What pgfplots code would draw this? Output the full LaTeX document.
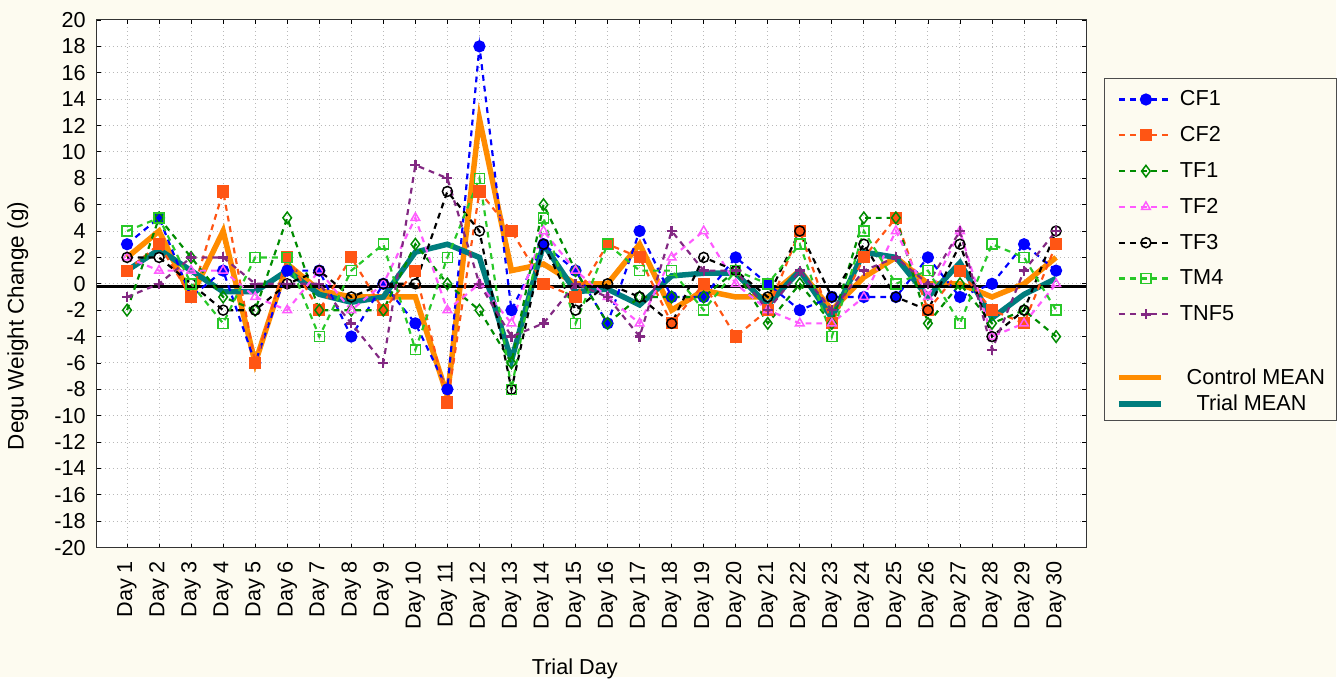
\documentclass[border=0pt]{standalone}
\usepackage{pgfplots}
\pgfplotsset{compat=1.18}
\usepackage{pgfplotstable}
\usepackage{fontspec}
\setmainfont{Liberation Sans}
\definecolor{bgc}{RGB}{253,251,240}
\definecolor{cfone}{RGB}{0,0,255}
\definecolor{cftwo}{RGB}{255,85,20}
\definecolor{tfone}{RGB}{0,140,0}
\definecolor{tftwo}{RGB}{255,90,255}
\definecolor{tmfour}{RGB}{40,200,40}
\definecolor{tnf}{RGB}{130,40,130}
\definecolor{ctrl}{RGB}{255,140,0}
\definecolor{trial}{RGB}{0,125,125}
\newcommand\lf{\fontsize{13}{15}\selectfont}
\pgfplotsset{
  indiv/.style={line width=1.3pt, dash pattern=on 3.5pt off 3pt, mark size=3pt},
  meanleg/.style={legend image code/.code={\path (0pt,-6.3pt) (0pt,6.3pt); \draw[##1] (0pt,0pt) -- (25pt,0pt);}},
  gapleg/.style={legend image code/.code={\path (0pt,-9.45pt) (0pt,9.45pt);}},
}
\pgfplotstableread{
day CF1 CF2 TF1 TF2 TF3 TM4 TNF5 C T
1 3 1 -2 2 2 4 -1 2 1
2 5 3 5 1 2 5 0 4 2.6
3 -1 -1 2 1 0 0 2 -1 1
4 1 7 -1 1 -2 -3 2 4 -0.6
5 -6 -6 -2 -1 -2 2 0 -6 -0.6
6 1 2 5 -2 0 2 0 1.5 1
7 1 -2 -2 1 1 -4 0 -0.5 -0.8
8 -4 2 -2 -2 -1 1 -3 -1 -1.4
9 0 -2 -2 0 0 3 -6 -1 -1
10 -3 1 3 5 0 -5 9 -1 2.4
11 -8 -9 0 -2 7 2 8 -8.5 3
12 18 7 -2 0 4 8 0 12.5 2
13 -2 4 -6 -3 -8 -8 -4 1 -5.8
14 3 0 6 4 3 5 -3 1.5 3
15 1 -1 1 1 -2 -3 0 0 -0.6
16 -3 3 -3 -1 0 3 -1 0 -0.4
17 4 2 -1 -3 -1 1 -4 3 -1.6
18 -1 -3 -1 2 -3 1 4 -2 0.6
19 -1 0 -1 4 2 -2 1 -0.5 0.8
20 2 -4 1 0 1 1 1 -1 0.8
21 0 -2 -3 -2 -1 0 -2 -1 -1.6
22 -2 4 0 -3 4 3 1 1 1
23 -1 -3 -3 -3 -1 -4 -2 -2 -2.6
24 -1 2 5 -1 3 4 1 0.5 2.4
25 -1 5 5 4 -1 0 2 2 2
26 2 -2 -3 -1 -2 1 0 0 -1
27 -1 1 0 4 3 -3 4 0 1.6
28 0 -2 -3 -4 -4 3 -5 -1 -2.6
29 3 -3 -2 -3 -2 2 1 0 -0.8
30 1 3 -4 0 4 -2 4 2 0.4
}\data
\begin{document}
\begin{tikzpicture}[x=1pt,y=1pt]
\fill[bgc] (0,0) rectangle (802.2,406.2);
\begin{axis}[
  at={(58.2pt,77.4pt)}, anchor=south west,
  width=594pt, height=316.8pt, scale only axis,
  xmin=0.06, xmax=30.94, ymin=-20, ymax=20,
  axis background/.style={fill=white},
  axis line style={black!80, line width=0.6pt},
  xtick={1,...,30},
  xticklabels={Day 1,Day 2,Day 3,Day 4,Day 5,Day 6,Day 7,Day 8,Day 9,Day 10,Day 11,Day 12,Day 13,Day 14,Day 15,Day 16,Day 17,Day 18,Day 19,Day 20,Day 21,Day 22,Day 23,Day 24,Day 25,Day 26,Day 27,Day 28,Day 29,Day 30},
  xticklabel style={rotate=90, anchor=east, font=\lf},
  xticklabel shift=4.5pt,
  ytick={-20,-18,...,20},
  yticklabel style={font=\lf, inner xsep=6.6pt, /pgf/number format/assume math mode=true},
  tick align=inside, major tick length=2.4pt,
  tick style={black, line width=0.5pt},
  grid=major,
  major grid style={gray!55, dotted, line width=0.6pt},
  xlabel={Trial Day}, ylabel={Degu Weight Change (g)},
  xlabel style={at={(axis description cs:0.483,-0.229)}, anchor=center, font=\lf},
  ylabel style={at={(axis description cs:-0.08,0.42)}, anchor=center, font=\fontsize{13.5}{15}\selectfont},
  legend style={at={(1.0182,0.8902)}, anchor=north west, fill=bgc, draw=black!70,
    font=\lf, inner xsep=7pt, inner ysep=2pt,
    nodes={inner sep=0pt}, column sep=3.6pt, row sep=0pt},
  legend cell align=left,
  legend image code/.code={\path (0pt,-10.1pt) (0pt,10.1pt);
     \draw[mark repeat=2,mark phase=2,#1] plot coordinates {(0pt,0pt) (16.2pt,0pt) (32.4pt,0pt)};},
]
\addplot[ctrl, line width=3.3pt, forget plot] table[x=day,y=C] {\data};
\addplot[trial, line width=3.3pt, forget plot] table[x=day,y=T] {\data};
\addplot[black, line width=1.8pt, forget plot] coordinates {(0,-0.2) (31,-0.2)};
\addplot[indiv, cfone, mark=*, mark options={solid, fill=cfone}] table[x=day,y=CF1] {\data};
\addlegendentry{CF1}
\addplot[indiv, cftwo, mark=square*, mark options={solid, fill=cftwo}] table[x=day,y=CF2] {\data};
\addlegendentry{CF2}
\addplot[indiv, tfone, mark=diamond, mark options={solid, fill=white, line width=0.9pt, scale=1.15}] table[x=day,y=TF1] {\data};
\addlegendentry{TF1}
\addplot[indiv, tftwo, mark=triangle, mark options={solid, fill=white, line width=0.9pt}] table[x=day,y=TF2] {\data};
\addlegendentry{TF2}
\addplot[indiv, black, mark=o, mark options={solid, fill=white, line width=0.9pt}] table[x=day,y=TF3] {\data};
\addlegendentry{TF3}
\addplot[indiv, tmfour, mark=square, mark options={solid, fill=white, line width=0.9pt}] table[x=day,y=TM4] {\data};
\addlegendentry{TM4}
\addplot[indiv, tnf, mark=+, mark options={solid, line width=1.4pt}] table[x=day,y=TNF5] {\data};
\addlegendentry{TNF5}
\addlegendimage{gapleg}
\addlegendentry{}
\addlegendimage{meanleg, ctrl, line width=3.3pt}
\addlegendentry{\hspace{4pt}Control MEAN}
\addlegendimage{meanleg, trial, line width=3.3pt}
\addlegendentry{\hspace{10pt}Trial MEAN}
\end{axis}
\end{tikzpicture}
\end{document}
